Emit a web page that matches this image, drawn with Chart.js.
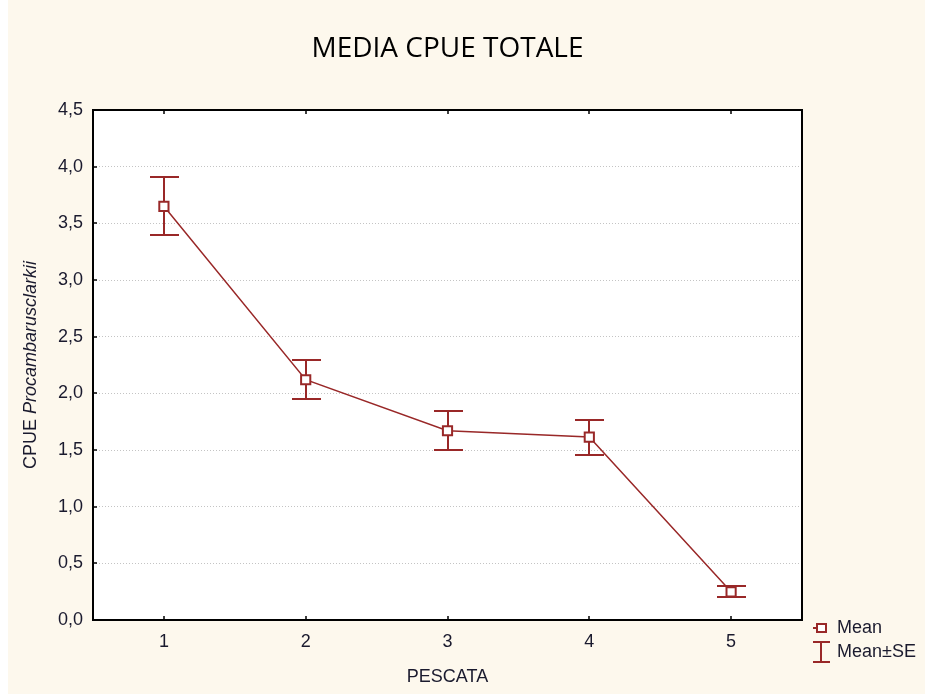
<!DOCTYPE html>
<html>
<head>
<meta charset="utf-8">
<script src="https://cdn.jsdelivr.net/npm/chart.js@4/dist/chart.umd.min.js"></script>
<style>
  html, body { margin: 0; padding: 0; background: #ffffff; }
  #wrap { width: 925px; height: 694px; }
</style>
</head>
<body>
<div id="wrap"><canvas id="myCanvas" width="925" height="694"></canvas></div>
<script>
var pescata = ["1", "2", "3", "4", "5"];
var meanCpue = [3.65, 2.12, 1.67, 1.614, 0.249];
var seCpue = [0.256, 0.171, 0.17, 0.154, 0.049];
var yTicks = [0, 0.5, 1, 1.5, 2, 2.5, 3, 3.5, 4, 4.5];

var RED = "#992828";
var CREAM = "#fdf8ed";
var INK = "#1a1a2e";
var FONT = "Liberation Sans";

// background, plot frame, title, y label, error bars, legend
var decor = {
  id: "decor",
  beforeDraw: function (chart) {
    var ctx = chart.ctx, a = chart.chartArea;
    ctx.save();
    ctx.fillStyle = "#ffffff";
    ctx.fillRect(0, 0, chart.width, chart.height);
    ctx.fillStyle = CREAM;
    ctx.fillRect(8, 0, chart.width - 8, chart.height);
    ctx.fillStyle = "#ffffff";
    ctx.fillRect(a.left, a.top, a.right - a.left, a.bottom - a.top);
    ctx.restore();
  },
  beforeDatasetsDraw: function (chart) {
    var ctx = chart.ctx;
    var x = chart.scales.x, y = chart.scales.y;
    ctx.save();
    ctx.strokeStyle = RED;
    ctx.lineWidth = 2;
    for (var i = 0; i < meanCpue.length; i++) {
      var px = Math.round(x.getPixelForValue(i));
      var top = Math.round(y.getPixelForValue(meanCpue[i] + seCpue[i]));
      var bot = Math.round(y.getPixelForValue(meanCpue[i] - seCpue[i]));
      ctx.beginPath();
      ctx.moveTo(px, top);
      ctx.lineTo(px, bot);
      ctx.moveTo(px - 14, top);
      ctx.lineTo(px + 15, top);
      ctx.moveTo(px - 14, bot);
      ctx.lineTo(px + 15, bot);
      ctx.stroke();
    }
    ctx.restore();
  },
  afterDraw: function (chart) {
    var ctx = chart.ctx, a = chart.chartArea;
    var x = chart.scales.x, y = chart.scales.y;
    ctx.save();

    // frame and inner ticks
    ctx.strokeStyle = "#000000";
    ctx.lineWidth = 2;
    ctx.strokeRect(a.left, a.top, a.right - a.left, a.bottom - a.top);
    ctx.lineWidth = 1.5;
    ctx.beginPath();
    yTicks.forEach(function (v) {
      var py = Math.round(y.getPixelForValue(v));
      ctx.moveTo(a.left, py);
      ctx.lineTo(a.left + 4, py);
    });
    for (var i = 0; i < pescata.length; i++) {
      var px = Math.round(x.getPixelForValue(i));
      ctx.moveTo(px, a.bottom);
      ctx.lineTo(px, a.bottom - 4);
      ctx.moveTo(px, a.top);
      ctx.lineTo(px, a.top + 4);
    }
    ctx.stroke();

    // title
    ctx.fillStyle = "#000000";
    ctx.font = "28px 'Open Sans'";
    ctx.textAlign = "center";
    ctx.textBaseline = "middle";
    ctx.fillText("MEDIA CPUE TOTALE", (a.left + a.right) / 2, 49);

    // y axis label, roman + italic
    ctx.translate(31, (a.top + a.bottom) / 2);
    ctx.rotate(-Math.PI / 2);
    ctx.fillStyle = INK;
    var p1 = "CPUE ", p2 = "Procambarusclarkii";
    ctx.font = "18px '" + FONT + "'";
    var w1 = ctx.measureText(p1).width;
    ctx.font = "italic 18px '" + FONT + "'";
    var w2 = ctx.measureText(p2).width;
    var sx = -(w1 + w2) / 2;
    ctx.textAlign = "left";
    ctx.font = "18px '" + FONT + "'";
    ctx.fillText(p1, sx, 0);
    ctx.font = "italic 18px '" + FONT + "'";
    ctx.fillText(p2, sx + w1, 0);
    ctx.setTransform(1, 0, 0, 1, 0, 0);

    // legend
    var lx = 821, ly1 = 628, ly2 = 652;
    ctx.strokeStyle = RED;
    ctx.lineWidth = 2;
    ctx.beginPath();
    ctx.moveTo(813, ly1);
    ctx.lineTo(817, ly1);
    ctx.stroke();
    ctx.fillStyle = "#ffffff";
    ctx.fillRect(817, ly1 - 4, 9, 8);
    ctx.strokeRect(817, ly1 - 4, 9, 8);
    ctx.beginPath();
    ctx.moveTo(lx, ly2 - 10);
    ctx.lineTo(lx, ly2 + 10);
    ctx.moveTo(lx - 8, ly2 - 10);
    ctx.lineTo(lx + 9, ly2 - 10);
    ctx.moveTo(lx - 8, ly2 + 10);
    ctx.lineTo(lx + 9, ly2 + 10);
    ctx.stroke();
    ctx.fillStyle = INK;
    ctx.font = "18px '" + FONT + "'";
    ctx.textAlign = "left";
    ctx.textBaseline = "middle";
    ctx.fillText("Mean", 837, ly1);
    ctx.fillText("Mean\u00b1SE", 837, ly2);
    ctx.restore();
  }
};

var chart = new Chart(document.getElementById("myCanvas"), {
  type: "line",
  data: {
    labels: pescata,
    datasets: [{
      label: "Mean",
      data: meanCpue,
      borderColor: RED,
      borderWidth: 1.5,
      tension: 0,
      pointStyle: "rect",
      pointRadius: 6.5,
      pointBorderWidth: 2,
      pointBackgroundColor: "#ffffff",
      pointBorderColor: RED
    }]
  },
  options: {
    responsive: false,
    animation: false,
    layout: { padding: { left: 0, right: 123, top: 110, bottom: 0 } },
    plugins: {
      legend: { display: false },
      title: { display: false },
      tooltip: { enabled: false }
    },
    scales: {
      x: {
        type: "category",
        offset: true,
        grid: { display: false, drawTicks: false },
        border: { display: false },
        ticks: { color: INK, font: { family: FONT, size: 18 }, padding: 11 },
        title: {
          display: true,
          text: "PESCATA",
          color: INK,
          font: { family: FONT, size: 18 },
          padding: { top: 4, bottom: 6 }
        },
        afterFit: function (s) { s.height = 74; }
      },
      y: {
        min: 0,
        max: 4.5,
        afterBuildTicks: function (s) {
          s.ticks = yTicks.map(function (v) { return { value: v }; });
        },
        grid: {
          color: function (c) { return (c.tick.value === 0 || c.tick.value === 4.5) ? "rgba(0,0,0,0)" : "#c4c4c4"; },
          lineWidth: 1,
          drawTicks: false
        },
        border: { display: false, dash: [1, 2] },
        ticks: {
          color: INK,
          font: { family: FONT, size: 18 },
          padding: 10,
          callback: function (v) { return v.toFixed(1).replace(".", ","); }
        },
        afterFit: function (s) { s.width = 93; }
      }
    }
  },
  plugins: [decor]
});
</script>
</body>
</html>
